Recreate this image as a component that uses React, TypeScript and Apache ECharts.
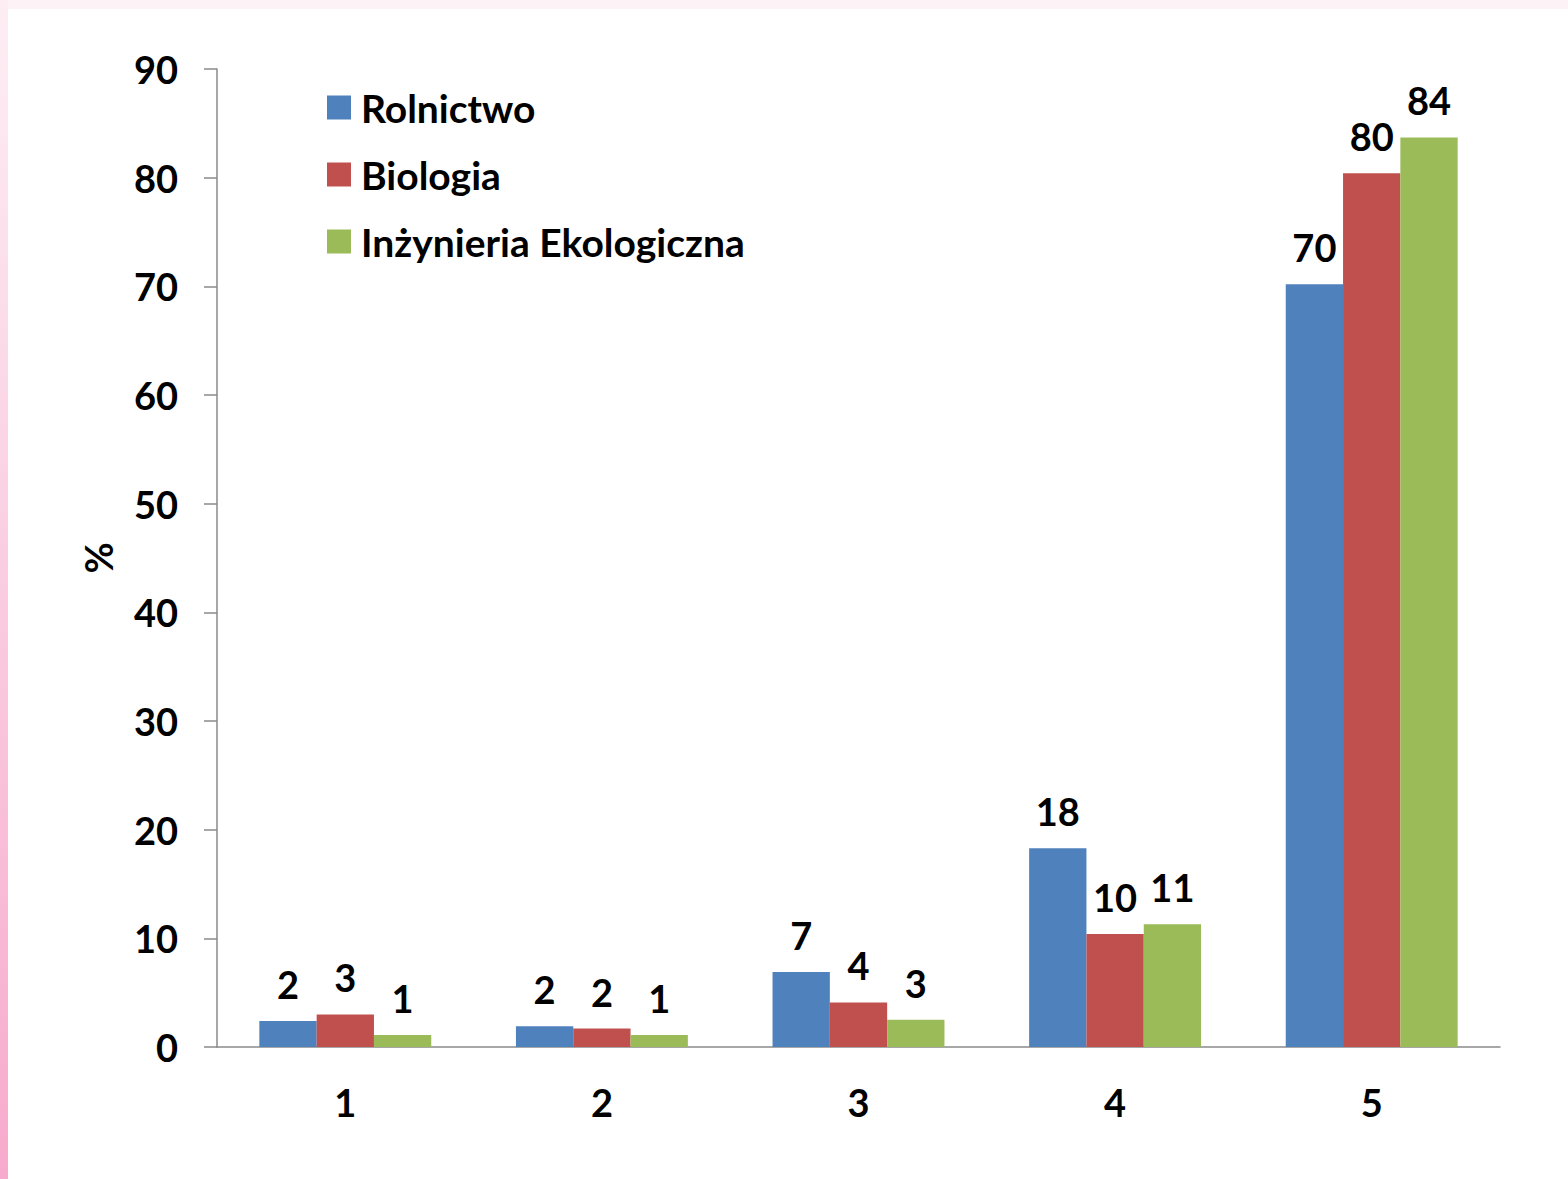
import React, { useEffect, useRef } from "react";
import * as echarts from "echarts";

const categories = ["1", "2", "3", "4", "5"];
const seriesNames = ["Rolnictwo", "Biologia", "Inżynieria Ekologiczna"];
const rolnictwo = [2.4, 1.9, 6.9, 18.3, 70.2];
const biologia = [3.0, 1.7, 4.1, 10.4, 80.4];
const inzynieria = [1.1, 1.1, 2.5, 11.3, 83.7];
const yTicks = { min: 0, max: 90, interval: 10 };
const colors = ["#4F81BD", "#C0504D", "#9BBB59"];

const FONT = "Lato";

export default function App() {
  const ref = useRef<HTMLDivElement>(null);
  useEffect(() => {
    if (!ref.current) return;
    const chart = echarts.init(ref.current, undefined, { renderer: "svg" });
    const values = [rolnictwo, biologia, inzynieria];
    chart.setOption({
      animation: false,
      textStyle: { fontFamily: FONT },
      legend: {
        orient: "vertical",
        left: 327,
        top: 87,
        padding: 0,
        itemWidth: 24,
        itemHeight: 24,
        itemGap: 26,
        icon: "rect",
        data: seriesNames,
        textStyle: {
          fontFamily: FONT,
          fontWeight: "bold",
          fontSize: 39,
          color: "#000",
          lineHeight: 41,
          padding: [0, 0, 0, 5],
        },
      },
      grid: { left: 217, top: 69, right: 68, bottom: 132, containLabel: false },
      xAxis: {
        type: "category",
        data: categories,
        axisLine: { lineStyle: { color: "#8a8a8a", width: 1.5 } },
        axisTick: { length: 12, lineStyle: { color: "#8a8a8a", width: 1.5 } },
        axisLabel: {
          fontFamily: FONT,
          fontWeight: "bold",
          fontSize: 38,
          color: "#000",
          margin: 36,
        },
      },
      yAxis: {
        type: "value",
        min: yTicks.min,
        max: yTicks.max,
        interval: yTicks.interval,
        name: "%",
        nameLocation: "middle",
        nameGap: 100,
        nameRotate: 90,
        nameTextStyle: { fontFamily: FONT, fontWeight: "bold", fontSize: 38, color: "#000" },
        splitLine: { show: false },
        axisLine: { show: true, lineStyle: { color: "#8a8a8a", width: 1.5 } },
        axisTick: { show: true, length: 13, lineStyle: { color: "#8a8a8a", width: 1.5 } },
        axisLabel: {
          fontFamily: FONT,
          fontWeight: "bold",
          fontSize: 38,
          color: "#000",
          margin: 39,
        },
      },
      series: seriesNames.map((name, i) => ({
        name,
        type: "bar",
        data: values[i],
        barGap: "0%",
        barCategoryGap: "33%",
        itemStyle: { color: colors[i] },
        label: {
          show: true,
          position: "top",
          distance: 18,
          fontFamily: FONT,
          fontWeight: "bold",
          fontSize: 38,
          color: "#000",
          formatter: (p: any) => String(Math.round(p.value)),
        },
      })),
    });
    return () => chart.dispose();
  }, []);
  return (
    <div style={{ position: "absolute", left: 0, top: 0, width: 1568, height: 1179, background: "#fdf2f6", overflow: "hidden" }}>
      <div
        style={{
          position: "absolute",
          left: 0,
          top: 0,
          width: 8,
          height: 1179,
          background: "linear-gradient(#fdeef4, #f7aacd)",
        }}
      />
      <div style={{ position: "absolute", left: 8, top: 9, right: 0, bottom: 0, background: "#ffffff" }} />
      <div ref={ref} style={{ position: "absolute", left: 0, top: 0, width: 1568, height: 1179 }} />
    </div>
  );
}
